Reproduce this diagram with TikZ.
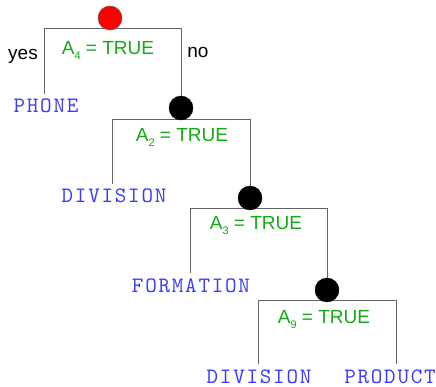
\documentclass[tikz,border=0pt]{standalone}
\usepackage{fontspec}
\setmainfont{Liberation Sans}
\newfontfamily\leafmono{lmmono10-regular.otf}[LetterSpace=8]
\definecolor{leafblue}{RGB}{60,60,255}
\definecolor{condgreen}{RGB}{20,170,20}
\definecolor{edgegray}{RGB}{100,100,100}
\newcommand\subn[1]{\raisebox{-5pt}{\fontsize{11}{11}\selectfont #1}}
\begin{document}
\begin{tikzpicture}[x=1pt,y=-1pt,
  leaf/.style={font=\leafmono\fontsize{22}{22}\selectfont, text=leafblue, anchor=base, inner sep=0pt, outer ysep=5pt},
  cond/.style={font=\fontsize{19}{19}\selectfont, text=condgreen, anchor=base, inner sep=0pt},
  lbl/.style={font=\fontsize{19}{19}\selectfont, text=black, anchor=base, inner sep=0pt},
  edge/.style={draw=edgegray, line width=0.9pt},
  rootnode/.style={circle, fill=red, draw=black!60, line width=0.6pt, minimum size=24pt, inner sep=0pt},
  innernode/.style={circle, fill=black, draw=black, minimum size=24pt, inner sep=0pt}]
\useasboundingbox (0,0) rectangle (436,387);
% corners
\coordinate (c1l) at (44,28);  \coordinate (c1r) at (181,28);
\coordinate (c2l) at (112,119); \coordinate (c2r) at (250,119);
\coordinate (c3l) at (190,208); \coordinate (c3r) at (327,208);
\coordinate (c4l) at (258,300); \coordinate (c4r) at (396,300);
% leaves
\node[leaf] (phone) at (46,113) {PHONE};
\node[leaf] (div1) at (114,203) {DIVISION};
\node[leaf] (form) at (191,292) {FORMATION};
\node[leaf] (div2) at (259,383) {DIVISION};
\node[leaf] (prod) at (390,383) {PRODUCT};
% labels
\node[lbl] (yes) at (23,60) {yes};
\node[lbl] (no) at (198,58) {no};
\node[cond] (t1) at (108,55) {A\subn{4} = TRUE};
\node[cond] (t2) at (182,142) {A\subn{2} = TRUE};
\node[cond] (t3) at (256,230) {A\subn{3} = TRUE};
\node[cond] (t4) at (324,323) {A\subn{9} = TRUE};
% edges
\draw[edge] (c1l |- phone.north) -- (c1l) -- (c1r) -- (c1r |- 0,108);
\draw[edge] (c2l |- div1.north) -- (c2l) -- (c2r) -- (c2r |- 0,198);
\draw[edge] (c3l |- form.north) -- (c3l) -- (c3r) -- (c3r |- 0,290);
\draw[edge] (c4l |- div2.north) -- (c4l) -- (c4r) -- (c4r |- prod.north);
% decision nodes
\node[rootnode] (n1) at (110,18) {};
\node[innernode] (n2) at (181,108) {};
\node[innernode] (n3) at (250,198) {};
\node[innernode] (n4) at (327,290) {};
\end{tikzpicture}
\end{document}
